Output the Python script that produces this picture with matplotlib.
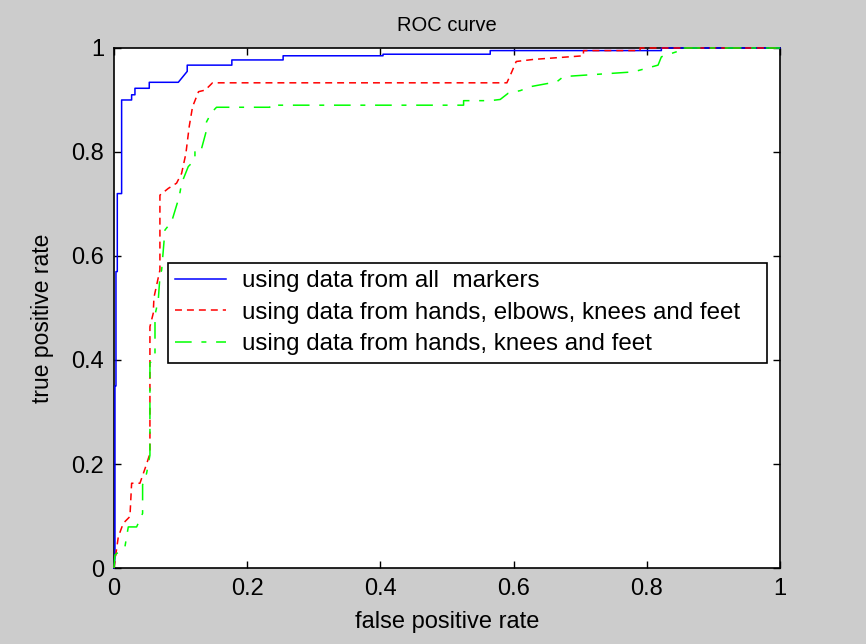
"""
ROC curves for three marker subsets
"""
import matplotlib
matplotlib.use('Agg')
import matplotlib.pyplot as plt

# blue: all markers
fpr_all = [0.0, 0.0015, 0.0015, 0.003, 0.003, 0.005, 0.005, 0.0115, 0.0115, 0.0265, 0.0265,
           0.0315, 0.0315, 0.053, 0.053, 0.0966, 0.11, 0.11, 0.177, 0.177, 0.254, 0.254,
           0.404, 0.404, 0.565, 0.565, 0.822, 0.822, 1.0]
tpr_all = [0.0, 0.02, 0.35, 0.35, 0.57, 0.57, 0.72, 0.72, 0.90, 0.90, 0.91,
           0.91, 0.9225, 0.9225, 0.934, 0.934, 0.955, 0.967, 0.967, 0.977, 0.977, 0.985,
           0.985, 0.988, 0.988, 0.995, 0.995, 1.0, 1.0]

# red: hands, elbows, knees and feet
fpr_hekf = [0.0, 0.0065, 0.014, 0.024, 0.0265, 0.039, 0.049, 0.054, 0.054, 0.059, 0.06,
            0.069, 0.069, 0.0816, 0.094, 0.1016, 0.108, 0.113, 0.118, 0.127, 0.137, 0.148,
            0.59, 0.597, 0.604, 0.63, 0.705, 0.705, 0.79, 0.79, 1.0]
tpr_hekf = [0.0, 0.06, 0.086, 0.099, 0.163, 0.163, 0.20, 0.22, 0.464, 0.49, 0.52,
            0.573, 0.717, 0.730, 0.74, 0.759, 0.797, 0.849, 0.887, 0.916, 0.919, 0.933,
            0.933, 0.953, 0.974, 0.978, 0.985, 0.995, 0.995, 1.0, 1.0]

# green: hands, knees and feet
fpr_hkf = [0.0, 0.0015, 0.0165, 0.0215, 0.034, 0.043, 0.043, 0.049, 0.054, 0.054, 0.0616,
           0.0616, 0.0665, 0.069, 0.0716, 0.0766, 0.0866, 0.098, 0.1016, 0.1116, 0.1216,
           0.1216, 0.1316, 0.139, 0.139, 0.1466, 0.154, 0.234, 0.234, 0.525, 0.525, 0.565,
           0.58, 0.592, 0.61, 0.627, 0.665, 0.675, 0.78, 0.817, 0.822, 0.85, 0.85, 1.0]
tpr_hkf = [0.0, 0.025, 0.041, 0.079, 0.079, 0.105, 0.16, 0.182, 0.217, 0.394, 0.406,
           0.4865, 0.515, 0.56, 0.573, 0.65, 0.666, 0.714, 0.74, 0.772, 0.785,
           0.807, 0.807, 0.842, 0.858, 0.876, 0.886, 0.886, 0.890, 0.890, 0.8987, 0.8987,
           0.901, 0.913, 0.918, 0.926, 0.935, 0.945, 0.954, 0.967, 0.983, 0.995, 1.0, 1.0]

labels = ['using data from all  markers',
          'using data from hands, elbows, knees and feet',
          'using data from hands, knees and feet']
ticks = [0, 0.2, 0.4, 0.6, 0.8, 1]
tick_labels = ['0', '0.2', '0.4', '0.6', '0.8', '1']

plt.rcParams['font.family'] = ['Liberation Sans', 'DejaVu Sans']
plt.rcParams['lines.scale_dashes'] = False

fig = plt.figure(figsize=(8.66, 6.44), dpi=100, facecolor='#cccccc')
ax = fig.add_axes([0.1316, 0.118, 0.769, 0.8075])
ax.set_facecolor('white')

ax.plot(fpr_all, tpr_all, color='#0000ff', lw=1.1, label=labels[0], clip_on=False, zorder=3)
ax.plot(fpr_hekf, tpr_hekf, color='#ff0000', lw=1.1, dashes=(5, 3.6), label=labels[1],
        clip_on=False, zorder=3)
ax.plot(fpr_hkf, tpr_hkf, color='#00ff00', lw=1.1, dashes=(12, 7, 3.6, 7), label=labels[2],
        clip_on=False, zorder=3)

ax.set_xlim(0, 1)
ax.set_ylim(0, 1)
ax.set_xticks(ticks)
ax.set_xticklabels(tick_labels)
ax.set_yticks(ticks)
ax.set_yticklabels(tick_labels)
ax.tick_params(direction='in', length=5, width=1, top=True, right=True,
               labelsize=17, pad=7, colors='black')
for s in ax.spines.values():
    s.set_linewidth(1.2)

ax.set_title('ROC curve', fontsize=14.5, pad=12)
ax.set_xlabel('false positive rate', fontsize=17, labelpad=8)
ax.set_ylabel('true positive rate', fontsize=16.5)
ax.yaxis.set_label_coords(-0.09, 0.48)

leg = ax.legend(loc='upper left', bbox_to_anchor=(0.081, 0.392, 0.899, 0.195), mode='expand',
                fontsize=17.4, frameon=True, fancybox=False, borderpad=0.3,
                labelspacing=0.4, handlelength=2.1, handletextpad=0.65, borderaxespad=0)
leg.get_frame().set_edgecolor('black')
leg.get_frame().set_linewidth(1.2)
leg.get_frame().set_alpha(1)

fig.savefig('out.png', dpi=100, facecolor=fig.get_facecolor())
